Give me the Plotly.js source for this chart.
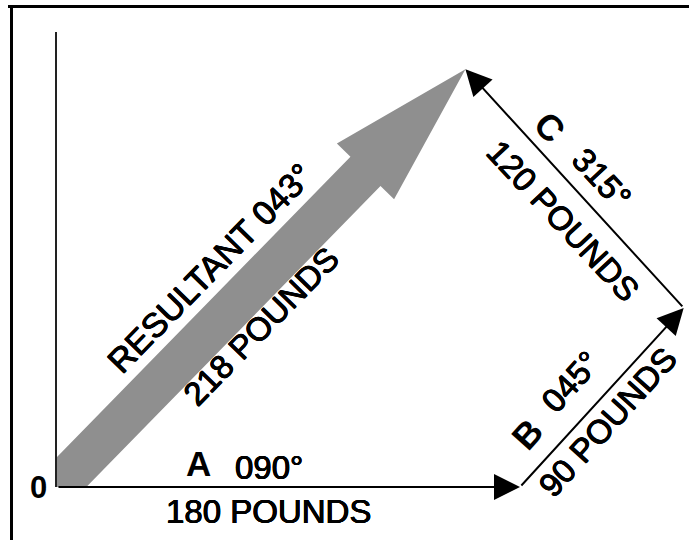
<!DOCTYPE html>
<html>
<head>
<meta charset="utf-8">
<script src="https://cdn.plot.ly/plotly-3.0.1.min.js"></script>
<style>html,body{margin:0;padding:0;background:#fff;}#chart{width:689px;height:540px;}</style>
</head>
<body>
<div id="chart"></div>
<script>
// ---- data ----
const vectorNames = ['A', 'B', 'C'];
const vectorPounds = [180, 90, 120];
const vectorBearings = [90, 45, 315];
const resultantName = 'RESULTANT';
const resultantPounds = 218;
const resultantBearing = 43;
const originLabel = '0';

// ---- layout / style ----
const W = 689, H = 540;
const M = {l: 57, r: 0, t: 32, b: 53};
const PW = W - M.l - M.r, PH = H - M.t - M.b;
const SX = 2.5722, SY = 2.814;          // pixels per pound (east, north)
const XR = [0, PW / SX], YR = [0, PH / SY];
const FONT = 'Liberation Sans, Arial, Helvetica, sans-serif';
const GREY = 'rgb(143,143,143)';
const THICK = '0.45px 0 0 #000, -0.45px 0 0 #000, 0 0.45px 0 #000, 0 -0.45px 0 #000';

const toPx = (x, y) => [M.l + x * SX, H - M.b - y * SY];
const toData = (px, py) => [(px - M.l) / SX, (H - M.b - py) / SY];
const toPaper = (px, py) => [(px - M.l) / PW, (H - M.b - py) / PH];
const fmtBearing = b => String(b).padStart(3, '0') + '°';

// head-to-tail nodes
const nodes = [[0, 0]];
vectorPounds.forEach((p, i) => {
  const r = vectorBearings[i] * Math.PI / 180;
  const last = nodes[nodes.length - 1];
  nodes.push([last[0] + p * Math.sin(r), last[1] + p * Math.cos(r)]);
});
const tip = nodes[nodes.length - 1];

const annotations = [];
// black vector arrows
vectorNames.forEach((n, i) => {
  annotations.push({
    x: nodes[i + 1][0], y: nodes[i + 1][1], ax: nodes[i][0], ay: nodes[i][1],
    xref: 'x', yref: 'y', axref: 'x', ayref: 'y', text: '', showarrow: true,
    arrowhead: 2, arrowsize: 2.6, arrowwidth: 2, arrowcolor: '#000', standoff: 0
  });
});

// grey resultant block arrow (pixel geometry -> data coords)
const O = toPx(0, 0), T = toPx(tip[0], tip[1]);
const len = Math.hypot(T[0] - O[0], T[1] - O[1]);
const u = [(T[0] - O[0]) / len, (T[1] - O[1]) / len];
const p = [-u[1], u[0]];
const HEADL = 143, HEADW = 40, SHAFTW = 21, TAIL = 40;
const pt = (base, a, b) => [base[0] + a * u[0] + b * p[0], base[1] + a * u[1] + b * p[1]];
const poly = [
  T,
  pt(T, -HEADL, -HEADW), pt(T, -HEADL, -SHAFTW),
  pt(O, -TAIL, -SHAFTW), pt(O, -TAIL, SHAFTW),
  pt(T, -HEADL, SHAFTW), pt(T, -HEADL, HEADW)
].map(q => toData(q[0], q[1]));
const path = 'M' + poly.map(q => q[0].toFixed(3) + ',' + q[1].toFixed(3)).join('L') + 'Z';

const shapes = [
  {type: 'path', xref: 'x', yref: 'y', path: path, fillcolor: GREY, line: {width: 0}, layer: 'below'}
];
// frame (top and left edges)
const f1 = toPaper(8, 6.5), f2 = toPaper(W + 2, 6.5), f3 = toPaper(11.5, 5), f4 = toPaper(11.5, H + 2);
shapes.push({type: 'line', xref: 'paper', yref: 'paper', x0: f1[0], y0: f1[1], x1: f2[0], y1: f2[1], line: {color: '#000', width: 3}});
shapes.push({type: 'line', xref: 'paper', yref: 'paper', x0: f3[0], y0: f3[1], x1: f4[0], y1: f4[1], line: {color: '#000', width: 3}});

// text labels: [text, px, py, angle, size, bold]
const angR = Math.atan2(-(T[1] - O[1]), T[0] - O[0]) * 180 / Math.PI;
const labels = [
  [originLabel, 38, 487, 0, 31, true],
  [vectorNames[0], 198, 463, 0, 35, true],
  [fmtBearing(vectorBearings[0]), 269, 467, 0, 33, false],
  [vectorPounds[0] + ' POUNDS', 268, 511, 0, 33, false],
  [vectorNames[1], 527, 434, -48, 36, true],
  [fmtBearing(vectorBearings[1]), 571, 382, -48, 33, false],
  [vectorPounds[1] + ' POUNDS', 607, 422, -48, 33, false],
  [vectorNames[2], 550, 127, 47, 36, true],
  [fmtBearing(vectorBearings[2]), 602, 178, 47, 33, false],
  [vectorPounds[2] + ' POUNDS', 563, 220, 47, 33, false],
  [resultantName + ' ' + fmtBearing(resultantBearing), 210, 268, -angR, 34, false],
  [resultantPounds + ' POUNDS', 261, 327, -angR, 33, false]
];
labels.forEach(l => {
  const d = toPaper(l[1], l[2]);
  annotations.push({
    x: d[0], y: d[1], xref: 'paper', yref: 'paper', text: l[5] ? '<b>' + l[0] + '</b>' : l[0],
    showarrow: false, textangle: l[3], xanchor: 'center', yanchor: 'middle',
    font: {family: FONT, size: l[4], color: '#000', shadow: l[5] ? 'none' : THICK}
  });
});

const layout = {
  width: W, height: H, margin: M, paper_bgcolor: '#fff', plot_bgcolor: 'rgba(0,0,0,0)',
  showlegend: false,
  xaxis: {range: XR, showgrid: false, zeroline: false, showticklabels: false, ticks: '', showline: false, fixedrange: true},
  yaxis: {range: YR, showgrid: false, zeroline: false, showticklabels: false, ticks: '', showline: true, linecolor: '#222', linewidth: 2, fixedrange: true},
  shapes: shapes, annotations: annotations
};
Plotly.newPlot('chart', [{x: [], y: [], type: 'scatter', mode: 'lines', hoverinfo: 'skip'}], layout, {staticPlot: true, displayModeBar: false});
</script>
</body>
</html>
